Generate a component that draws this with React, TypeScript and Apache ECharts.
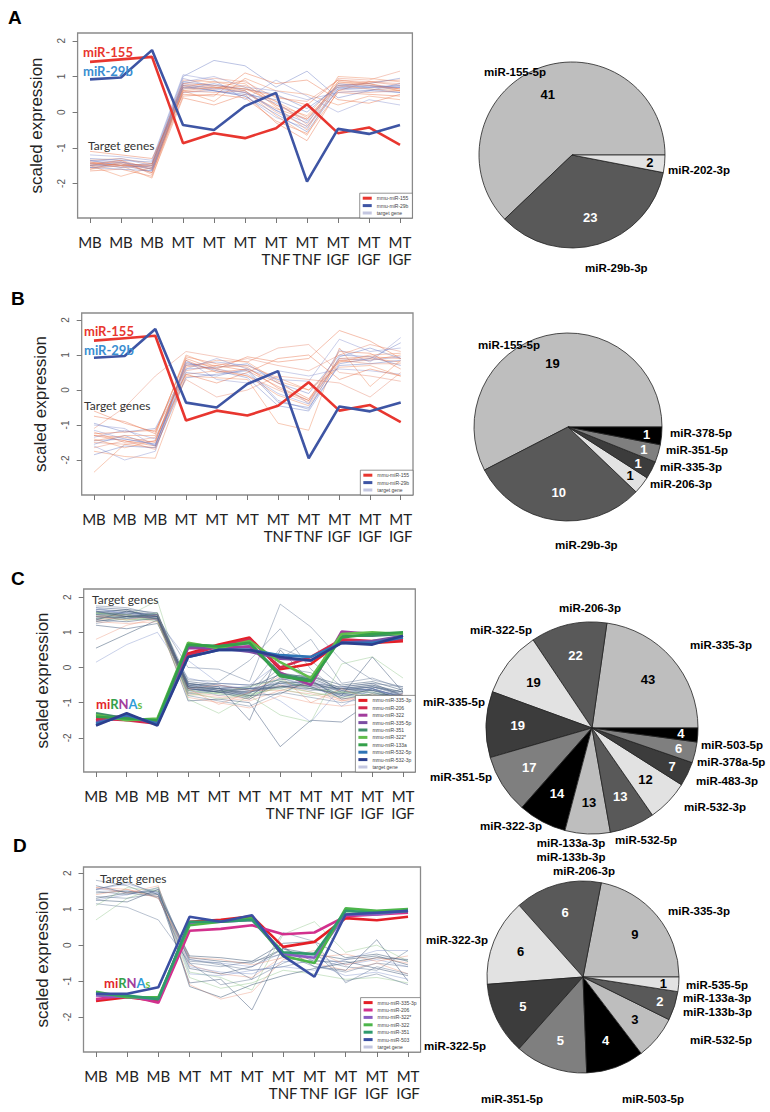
import React, { useEffect, useRef } from 'react';
import * as echarts from 'echarts';

// ---------- data ----------
const xLabels = ['MB', 'MB', 'MB', 'MT', 'MT', 'MT', 'MT\nTNF', 'MT\nTNF', 'MT\nIGF', 'MT\nIGF', 'MT\nIGF'];
const xTicks = [1, 2, 3, 4, 5, 6, 7, 8, 9, 10, 11];
const yTicks = [-2, -1, 0, 1, 2];

// panels A and B: miRNAs
const miR155 = [1.41, 1.48, 1.55, -0.87, -0.59, -0.73, -0.45, 0.22, -0.59, -0.43, -0.92];
const miR29b = [0.92, 0.97, 1.74, -0.36, -0.5, 0.17, 0.54, -1.95, -0.47, -0.61, -0.36];

const genesA = [
  [-1.45, -1.4, -1.55, 0.75, 0.7, 0.55, 0.1, -0.2, 0.8, 0.75, 0.65],
  [-1.5, -1.45, -1.6, 0.65, 0.8, 0.6, 0.05, -0.3, 0.75, 0.7, 0.7],
  [-1.35, -1.3, -1.45, 0.9, 0.85, 0.7, 0.2, -0.1, 0.85, 0.8, 0.6],
  [-1.55, -1.5, -1.65, 0.55, 0.6, 0.45, -0.15, -0.45, 0.65, 0.6, 0.55],
  [-1.4, -1.55, -1.5, 0.8, 0.95, 0.85, 0.4, 0.3, 0.9, 0.85, 0.75],
  [-1.6, -1.4, -1.7, 0.45, 0.5, 0.4, -0.25, -0.6, 0.55, 0.5, 0.45],
  [-1.3, -1.35, -1.4, 1.0, 1.45, 1.3, 0.7, 1.15, 0.4, 0.6, 0.8],
  [-1.5, -1.8, -1.55, 0.6, 0.3, 0.95, 0.6, 0.5, 0.2, 0.45, 0.35],
  [-1.2, -1.25, -1.35, 1.05, 0.9, 0.35, 0.9, 0.45, 0.0, 0.35, 0.2],
  [-1.45, -1.35, -1.75, 0.7, 0.65, 0.75, 0.3, -0.35, 0.95, 0.9, 1.15],
  [-1.65, -1.6, -1.8, 0.4, 0.2, 0.5, -0.3, -0.8, 0.6, 0.85, 0.9],
  [-1.35, -1.5, -1.45, 0.85, 0.75, 0.65, 0.5, 0.1, 0.7, 0.65, 0.55],
  [-1.5, -1.45, -1.6, 0.7, 0.85, 0.8, 0.15, -0.5, 1.0, 0.95, 0.85],
  [-1.4, -1.3, -1.5, 0.95, 0.7, 0.55, 0.25, -0.25, 0.8, 0.7, 0.7],
  [-1.55, -1.45, -1.7, 0.6, 0.55, 0.6, 0.0, -0.4, 0.6, 0.55, 0.6],
  [-1.1, -1.2, -1.3, 0.5, 0.45, 1.1, 0.8, 0.9, 0.35, 0.25, 0.5],
  [-1.45, -1.55, -1.5, 0.75, 0.6, 0.5, 0.35, 0.0, 0.75, 0.8, 0.95],
  [-1.6, -1.5, -1.85, 0.65, 0.7, 0.6, -0.1, -0.65, 0.85, 0.75, 0.6],
  [-1.35, -1.4, -1.55, 0.85, 1.0, 0.7, 0.6, 0.35, 0.55, 0.6, 0.7],
  [-1.5, -1.35, -1.6, 0.55, 0.65, 0.9, 0.2, -0.2, 0.7, 0.85, 0.8],
  [-1.4, -1.5, -1.45, 0.8, 0.75, 0.65, 0.45, 0.2, 0.9, 0.8, 0.65],
  [-1.55, -1.6, -1.65, 0.7, 0.6, 0.45, -0.05, -0.55, 0.65, 0.7, 0.75],
  [-1.45, -1.5, -1.5, 0.6, 0.7, 0.65, 0.3, -0.15, 0.75, 0.65, 0.6],
  [-1.5, -1.4, -1.6, 0.8, 0.65, 0.55, 0.05, -0.4, 0.7, 0.75, 0.7],
];

const genesB = [
  [-1.3, -1.45, -1.6, 0.75, 0.7, 0.55, 0.1, -0.3, 0.85, 0.9, 0.8],
  [-0.95, -1.2, -1.1, 0.6, 0.65, 0.75, 0.2, -0.1, 1.0, 0.95, 0.7],
  [-2.35, -1.55, -1.65, 0.45, 0.55, 0.4, -0.15, -0.45, 0.8, 0.85, 1.0],
  [-1.6, -2.0, -1.75, 0.85, 0.3, 0.2, 0.55, 0.4, 0.6, 0.55, 0.45],
  [-1.1, -0.5, 0.4, 1.1, 0.95, 0.8, 1.2, 1.3, 0.5, 0.4, 0.25],
  [-0.6, -0.95, -1.2, 0.9, 0.6, 0.95, 0.8, 0.9, 1.7, 1.4, 0.9],
  [-1.45, -1.4, -1.55, 0.5, 0.4, 0.6, -0.3, -0.55, 0.95, 1.2, 0.9],
  [-1.75, -1.9, -1.95, 0.4, 0.35, 0.3, -0.95, -1.15, 1.2, 0.1, 0.85],
  [-1.35, -1.15, -1.4, 0.7, 0.8, 0.7, 0.3, -0.4, 0.9, 0.85, 0.95],
  [-1.2, -1.5, -1.35, 0.3, -0.2, 0.0, 0.4, 0.3, 0.2, -0.2, 0.5],
  [-0.75, -0.9, -1.25, 0.95, 0.75, 0.65, 0.05, -0.3, 1.1, 1.05, 0.6],
  [-1.55, -1.3, -1.6, 0.8, 0.55, 0.35, -0.45, -0.6, 0.75, 0.9, 1.35],
  [-1.4, -1.65, -1.45, 0.65, 0.85, 0.8, 0.25, 0.0, 0.65, 0.7, 0.4],
  [-1.0, -1.1, -1.6, 0.75, 0.6, 0.45, -0.1, -0.4, 1.15, 0.8, 1.5],
  [-1.65, -1.45, -1.7, 0.55, 0.7, 0.9, 0.7, 0.55, 1.0, 1.3, 1.1],
  [-1.3, -1.35, -1.5, 0.85, 0.5, 0.6, 0.2, -0.25, 0.9, 0.95, 0.9],
  [-1.85, -1.6, -1.65, 0.35, 0.45, 0.55, -0.35, -0.5, 0.7, 0.75, 0.85],
  [-1.45, -1.3, -1.3, 1.0, 0.65, 0.7, 0.35, 0.0, 0.8, 1.0, 1.05],
  [-1.15, -1.4, -1.55, 0.6, 0.9, 0.6, 0.3, 0.25, 1.45, 1.1, 1.2],
  [-1.5, -1.55, -1.45, 0.7, 0.6, 0.4, 0.0, -0.35, 0.85, 0.75, 0.75],
  [-1.25, -1.2, -1.15, 0.45, 0.2, 0.5, 0.9, 1.0, 0.3, 0.6, 0.4],
];

// panel C miRNAs
const cMir335_3p = [-1.5, -1.45, -1.55, 0.4, 0.65, 0.85, -0.05, 0.1, 0.75, 0.7, 0.75];
const cMir206 = [-1.45, -1.5, -1.6, 0.35, 0.6, 0.8, 0.0, 0.3, 0.8, 0.75, 0.8];
const cMir322 = [-1.4, -1.4, -1.55, 0.55, 0.55, 0.6, -0.15, -0.5, 1.02, 0.95, 0.95];
const cMir335_5p = [-1.55, -1.4, -1.6, 0.6, 0.55, 0.45, 0.25, 0.2, 0.7, 0.75, 0.9];
const cMir351 = [-1.3, -1.45, -1.5, 0.65, 0.6, 0.7, -0.2, -0.35, 0.9, 0.9, 0.95];
const cMir322s = [-1.35, -1.5, -1.45, 0.7, 0.55, 0.75, 0.15, -0.3, 0.95, 1.0, 0.95];
const cMir133a = [-1.4, -1.45, -1.5, 0.65, 0.6, 0.7, -0.25, -0.4, 0.85, 0.95, 1.0];
const cMir532_5p = [-1.6, -1.35, -1.6, 0.3, 0.5, 0.5, 0.35, 0.3, 0.7, 0.7, 0.85];
const cMir532_3p = [-1.65, -1.3, -1.65, 0.3, 0.5, 0.5, 0.3, 0.2, 0.7, 0.65, 0.9];

const genesC = [
  [1.55, 1.5, 1.45, -0.55, -0.65, -0.7, -0.45, -0.4, -0.7, -0.6, -0.85],
  [1.45, 1.4, 1.35, -0.6, -0.7, -0.8, -0.3, -0.55, -0.8, -0.7, -0.95],
  [1.6, 1.55, 1.45, -0.5, -0.55, -0.6, -0.6, -0.35, -0.65, -0.55, -0.75],
  [1.35, 1.45, 1.4, -0.7, -0.8, -0.9, -0.5, -0.7, -0.9, -0.8, -1.0],
  [1.65, 1.6, 1.5, -0.45, -0.6, -0.55, -0.2, -0.25, -0.6, -0.5, -0.7],
  [1.5, 1.35, 1.4, -0.65, -0.75, -0.85, -0.4, -0.6, -0.75, -0.65, -0.9],
  [1.25, 1.4, 1.55, -0.8, -0.95, -1.1, -0.7, -0.85, -1.0, -0.85, -0.95],
  [1.7, 1.65, 1.35, -0.4, -0.5, -0.65, -0.55, -0.45, -0.55, -0.45, -0.8],
  [1.4, 1.5, 1.45, -0.55, -0.6, -0.75, 0.0, -0.15, -0.7, -0.6, -0.85],
  [0.15, 0.65, 1.0, -0.3, -0.5, -0.6, -0.45, -0.6, -0.8, -0.7, -0.9],
  [0.8, 1.2, 1.4, -0.75, -0.85, -0.95, -0.65, -0.75, -0.95, -0.75, -1.05],
  [0.55, 0.95, 1.35, -0.6, -0.7, -0.7, -0.55, -0.5, -0.6, -0.65, -0.8],
  [1.55, 1.45, 1.9, -0.9, -1.3, -0.8, -1.35, -1.55, 0.1, 0.3, -0.3],
  [1.5, 1.6, 1.45, 0.0, -0.05, -0.4, 1.8, 1.15, 0.2, -0.35, -0.55],
  [1.35, 1.3, 1.4, -0.95, -0.9, -1.0, -2.25, -1.5, -1.55, -0.95, -1.25],
  [1.45, 1.55, 1.5, -0.35, -0.4, 0.2, 1.1, -0.05, -0.75, -0.9, -0.6],
  [1.6, 1.4, 1.45, -0.7, -0.6, -0.55, -0.95, -1.55, -0.55, -0.65, -0.8],
  [1.3, 1.25, 1.3, -0.85, -1.0, -1.15, -0.8, -1.0, -1.1, -1.0, -1.1],
  [1.55, 1.65, 1.55, -0.5, -0.45, -0.5, -0.35, -0.25, -0.5, -0.4, -0.65],
  [1.4, 1.35, 1.4, -0.65, -0.75, -0.8, -0.55, -0.7, -0.85, -0.75, -0.95],
  [1.75, 1.7, 1.5, -0.6, -0.7, -0.75, 0.25, 0.8, -0.45, -0.3, -0.6],
  [1.2, 1.1, 1.25, -0.45, -0.55, -1.5, 0.5, -0.4, -0.8, 0.3, -0.7],
  [1.5, 1.45, 1.4, -0.75, -0.65, -0.6, -0.45, -0.55, -0.6, -0.55, -0.75],
  [1.65, 1.55, 1.5, -0.55, -0.8, -0.7, -0.3, -0.5, -0.75, -0.6, -0.85],
  [1.45, 1.5, 1.35, -0.6, -0.5, -0.65, -0.65, -0.45, -0.95, -0.85, -1.0],
  [1.35, 1.6, 1.45, -0.5, -0.65, -0.85, -0.15, -0.3, -0.65, -0.55, -0.7],
  [1.55, 1.4, 1.55, -0.7, -0.9, -0.75, -0.6, -0.8, -0.7, -0.7, -0.9],
  [1.6, 1.5, 1.4, -0.45, -0.55, -0.6, 0.55, 0.2, -0.55, -0.45, -0.55],
  [1.4, 1.45, 1.5, -0.55, -0.7, -0.9, -0.4, -0.55, -0.85, -0.6, -0.95],
  [1.5, 1.55, 1.45, -0.65, -0.6, -0.7, -0.5, -0.65, -0.6, -0.5, -0.8],
  [1.7, 1.5, 1.35, 0.2, -0.45, -0.5, 0.15, -0.4, -1.1, -0.6, -0.9],
  [1.45, 1.35, 1.5, -0.6, -1.05, -0.7, -0.25, -1.0, -0.6, -0.95, -0.75],
  [1.3, 1.45, 1.45, -0.55, -0.6, -0.8, -0.75, -0.35, -0.9, -0.75, -0.8],
  [1.55, 1.5, 1.3, -0.8, -0.7, -0.55, -0.35, -0.6, -0.7, -0.8, -1.0],
  [1.45, 1.4, 1.5, -0.5, -0.6, -0.65, -0.4, -0.45, -0.65, -0.55, -0.8],
  [1.6, 1.45, 1.4, -0.6, -0.7, -0.6, -0.55, -0.6, -0.75, -0.65, -0.9],
];

// panel D miRNAs
const dMir335_3p = [-1.55, -1.45, -1.55, 0.65, 0.7, 0.8, -0.05, 0.09, 0.75, 0.69, 0.79];
const dMir206 = [-1.5, -1.4, -1.6, 0.4, 0.45, 0.55, 0.3, 0.35, 0.8, 0.85, 0.9];
const dMir322s = [-1.4, -1.45, -1.5, 0.6, 0.65, 0.7, -0.25, -0.35, 0.85, 0.85, 0.95];
const dMir322 = [-1.3, -1.45, -1.45, 0.55, 0.65, 0.75, -0.3, -0.5, 1.02, 0.95, 1.0];
const dMir351 = [-1.35, -1.4, -1.5, 0.65, 0.65, 0.7, -0.2, -0.25, 0.95, 0.9, 0.95];
const dMir503 = [-1.35, -1.35, -1.17, 0.79, 0.65, 0.83, -0.3, -0.88, 0.85, 0.9, 0.95];

const genesD = [
  [1.55, 1.5, 1.45, -0.4, -0.5, -0.6, -0.2, -0.3, -0.55, -0.4, -0.6],
  [1.6, 1.55, 1.35, -0.55, -0.8, -0.9, -0.3, -0.5, -0.7, -0.5, -0.8],
  [1.3, 1.45, 1.5, -0.35, -0.45, -0.5, -0.1, -0.25, -0.4, -0.3, -0.55],
  [0.7, 1.3, 1.6, -0.75, -0.9, -1.25, 0.3, 0.65, -0.2, 0.0, -0.45],
  [1.15, 1.05, 0.7, -0.5, -1.1, -0.95, 0.35, 0.1, -1.05, -0.6, -0.8],
  [1.55, 1.75, 1.4, -1.05, -0.95, -1.8, -0.05, -0.6, -0.7, 0.15, -1.0],
  [1.8, 1.65, 1.3, -0.4, -0.55, -0.7, -0.6, -0.4, -0.6, -0.7, -0.15],
  [1.25, 1.4, 1.55, -0.6, -0.75, -0.8, -0.45, -0.5, -0.85, -0.75, -0.95],
  [1.6, 1.45, 1.65, -1.1, -1.5, -1.3, -0.4, -0.35, -0.25, -0.45, -0.3],
  [1.45, 1.5, 1.4, -0.3, -0.35, -0.45, 0.05, 0.1, -0.35, -0.25, -0.45],
  [1.1, 1.6, 1.5, -0.9, -1.2, -1.05, -0.7, -0.8, -0.95, -0.9, -1.05],
  [1.5, 1.4, 1.6, -0.5, -0.6, -0.45, -0.25, -0.6, -0.75, -0.5, -0.6],
  [1.65, 1.45, 1.35, -0.65, -0.8, -0.6, -0.1, -0.45, -0.45, -0.65, -0.85],
  [1.35, 1.3, 1.45, -0.45, -0.5, -0.95, -0.5, -0.2, -1.0, -0.8, -1.1],
  [1.55, 1.7, 1.45, -0.8, -0.85, -0.7, -0.6, -0.7, -0.4, -0.15, -0.15],
  [1.4, 1.55, 1.3, -0.35, -0.4, -0.55, -0.35, -0.15, -0.55, -0.35, -0.5],
  [1.25, 1.2, 1.55, -1.15, -1.45, -1.1, -0.85, -0.65, -0.5, -0.35, -0.4],
];

// pies
const pieALabels = ['miR-155-5p', 'miR-29b-3p', 'miR-202-3p'];
const pieAValues = [41, 23, 2];
const pieBLabels = ['miR-155-5p', 'miR-29b-3p', 'miR-206-3p', 'miR-335-3p', 'miR-351-5p', 'miR-378-5p'];
const pieBValues = [19, 10, 1, 1, 1, 1];
const pieCLabels = ['miR-335-3p', 'miR-206-3p', 'miR-322-5p', 'miR-335-5p', 'miR-351-5p', 'miR-322-3p',
  'miR-133a-3p\nmiR-133b-3p', 'miR-532-5p', 'miR-532-3p', 'miR-483-3p', 'miR-378a-5p', 'miR-503-5p'];
const pieCValues = [43, 22, 19, 19, 17, 14, 13, 13, 12, 7, 6, 4];
const pieDLabels = ['miR-335-3p', 'miR-206-3p', 'miR-322-3p', 'miR-322-5p', 'miR-351-5p', 'miR-503-5p',
  'miR-532-5p', 'miR-133a-3p\nmiR-133b-3p', 'miR-535-5p'];
const pieDValues = [9, 6, 6, 5, 5, 4, 3, 2, 1];

// ---------- layout / styling ----------
// name-label anchor positions [x, y, align] as placed in the figure
const pieAName = [[546, 72, 'right'], [585, 268, 'left'], [668, 170, 'left']];
const pieBName = [[540, 345, 'right'], [555, 545, 'left'], [650, 484, 'left'], [660, 467, 'left'], [666, 450, 'left'], [670, 433, 'left']];
const pieCName = [[690, 645, 'left'], [590, 608, 'center'], [532, 630, 'right'], [485, 702, 'right'], [492, 777, 'right'],
  [542, 826, 'right'], [571, 850, 'center'], [615, 840, 'left'], [684, 807, 'left'], [696, 781, 'left'], [697, 762, 'left'], [701, 745, 'left']];
const pieDName = [[668, 911, 'left'], [584, 871, 'center'], [488, 940, 'right'], [486, 1046, 'right'], [543, 1099, 'right'],
  [622, 1099, 'left'], [690, 1040, 'left'], [683, 1005, 'left'], [686, 985, 'left']];

const grayCycle = ['#bebebe', '#595959', '#e2e2e2', '#3c3c3c', '#7f7f7f', '#000000'];
const textOnGray = ['#000', '#fff', '#000', '#fff', '#fff', '#fff'];
const warmCool = ['rgba(232,105,62,0.42)', 'rgba(80,100,185,0.38)', 'rgba(242,150,110,0.5)', 'rgba(130,140,205,0.42)', 'rgba(225,110,80,0.36)'];
const slate = ['rgba(70,92,125,0.5)', 'rgba(90,112,145,0.45)', 'rgba(120,140,200,0.4)', 'rgba(235,140,110,0.38)', 'rgba(60,85,115,0.5)', 'rgba(130,190,120,0.38)', 'rgba(100,120,150,0.45)'];

const SANS = '"Liberation Sans", Arial, sans-serif';
const CAL = 'Lato, "Open Sans", sans-serif';

const panels = [
  { left: 77.6, top: 33, width: 334.8, height: 185, ymin: -2.97, ymax: 2.22 },
  { left: 81.7, top: 313, width: 331.3, height: 182, ymin: -3.0, ymax: 2.2 },
  { left: 83.7, top: 589, width: 331.6, height: 183, ymin: -2.97, ymax: 2.23 },
  { left: 83.5, top: 867, width: 337, height: 185, ymin: -2.97, ymax: 2.17 },
];

const pies = [
  { center: [572, 155], r: 93, labels: pieALabels, values: pieAValues, names: pieAName },
  { center: [568, 427], r: 94, labels: pieBLabels, values: pieBValues, names: pieBName },
  { center: [592, 728], r: 106, labels: pieCLabels, values: pieCValues, names: pieCName },
  { center: [583, 977], r: 96, labels: pieDLabels, values: pieDValues, names: pieDName },
];

function toXY(vals: number[]) {
  return vals.map((v, i) => [xTicks[i], v]);
}

function lineS(idx: number, name: string, vals: number[], color: string, width: number, z: number) {
  return {
    type: 'line', name, xAxisIndex: idx, yAxisIndex: idx, data: toXY(vals),
    symbol: 'none', silent: true, z, lineStyle: { color, width }, itemStyle: { color },
    emphasis: { disabled: true },
  };
}

// label anchor inside each slice, computed from the slice's mid angle
function innerPos(p: any, i: number) {
  const total = p.values.reduce((a: number, b: number) => a + b, 0);
  let cum = 0;
  for (let k = 0; k < i; k++) cum += p.values[k];
  const frac = p.values[i] / total;
  const mid = ((cum + p.values[i] / 2) / total) * Math.PI * 2;
  const f = frac < 0.06 ? 0.84 : 0.7;
  return [p.center[0] + Math.cos(mid) * p.r * f, p.center[1] - Math.sin(mid) * p.r * f];
}

function buildOption() {
  const grid = panels.map((p) => ({
    left: p.left, top: p.top, width: p.width, height: p.height,
    show: true, borderColor: '#8a8a8a', borderWidth: 1.3, backgroundColor: '#fff', containLabel: false,
  }));
  const xAxis = panels.map((p, i) => ({
    type: 'value', gridIndex: i, min: 0.6, max: 11.4, position: 'bottom',
    axisLine: { show: false, onZero: false }, splitLine: { show: false },
    axisTick: { show: true, customValues: xTicks, length: 5, lineStyle: { color: '#777', width: 1 } },
    axisLabel: {
      show: true, customValues: xTicks, formatter: (v: number) => xLabels[Math.round(v) - 1] || '',
      fontSize: 15, fontFamily: CAL, color: '#222', lineHeight: 17, margin: 15,
    },
  }));
  const yAxis = panels.map((p, i) => ({
    type: 'value', gridIndex: i, min: p.ymin, max: p.ymax, position: 'left',
    axisLine: { show: false, onZero: false }, splitLine: { show: false },
    axisTick: { show: true, customValues: yTicks, length: 5, lineStyle: { color: '#777', width: 1 } },
    axisLabel: { show: true, customValues: yTicks, rotate: 90, fontSize: 10, fontFamily: SANS, color: '#555', margin: 11 },
    name: 'scaled expression', nameLocation: 'middle', nameGap: 33,
    nameTextStyle: { fontSize: 17, fontFamily: SANS, color: '#222' },
  }));

  const series: any[] = [];
  genesA.forEach((g, k) => series.push(lineS(0, 'target gene', g, warmCool[k % warmCool.length], 1, 2)));
  series.push(lineS(0, 'mmu-miR-155', miR155, '#e8362f', 2.6, 5));
  series.push(lineS(0, 'mmu-miR-29b', miR29b, '#3e55a4', 2.6, 5));

  genesB.forEach((g, k) => series.push(lineS(1, 'target gene', g, warmCool[k % warmCool.length], 1, 2)));
  series.push(lineS(1, 'mmu-miR-155', miR155, '#e8362f', 2.6, 5));
  series.push(lineS(1, 'mmu-miR-29b', miR29b, '#3e55a4', 2.6, 5));

  genesC.forEach((g, k) => series.push(lineS(2, 'target gene', g, slate[k % slate.length], 1, 2)));
  const cMirs: [string, number[], string][] = [
    ['mmu-miR-335-3p', cMir335_3p, '#e41f26'],
    ['mmu-miR-206', cMir206, '#d42a4e'],
    ['mmu-miR-322', cMir322, '#a23c9c'],
    ['mmu-miR-335-5p', cMir335_5p, '#7b4ea3'],
    ['mmu-miR-351', cMir351, '#3f8f6a'],
    ['mmu-miR-322*', cMir322s, '#62bd4d'],
    ['mmu-miR-133a', cMir133a, '#34a04a'],
    ['mmu-miR-532-5p', cMir532_5p, '#2f74b5'],
    ['mmu-miR-532-3p', cMir532_3p, '#2c3f8e'],
  ];
  cMirs.forEach(([n, v, c]) => series.push(lineS(2, n, v, c, 2.6, 5)));

  genesD.forEach((g, k) => series.push(lineS(3, 'target gene', g, slate[(k + 2) % slate.length], 1, 2)));
  const dMirs: [string, number[], string][] = [
    ['mmu-miR-335-3p', dMir335_3p, '#e41f26'],
    ['mmu-miR-206', dMir206, '#d2308d'],
    ['mmu-miR-322*', dMir322s, '#8a5cc2'],
    ['mmu-miR-322', dMir322, '#4cb54a'],
    ['mmu-miR-351', dMir351, '#2e9a6d'],
    ['mmu-miR-503', dMir503, '#3a4fa3'],
  ];
  dMirs.forEach(([n, v, c]) => series.push(lineS(3, n, v, c, 2.6, 5)));

  // pies
  pies.forEach((p) => {
    const data = p.values.map((v, i) => ({
      name: p.labels[i], value: v,
      itemStyle: { color: grayCycle[i % 6] },
    }));
    series.push({
      type: 'pie', center: p.center, radius: p.r, startAngle: 0, clockwise: false,
      avoidLabelOverlap: false, silent: true, animation: false,
      itemStyle: { borderColor: '#222', borderWidth: 0.8 },
      label: { show: true, position: 'outside', formatter: '{b}', fontSize: 11.5, fontWeight: 'bold', fontFamily: SANS, color: '#000', lineHeight: 14 },
      labelLine: { show: false, length: 5, length2: 0 },
      labelLayout: (prm: any) => {
        const a = p.names[prm.dataIndex];
        return { x: a[0], y: a[1], align: a[2], verticalAlign: 'middle' };
      },
      emphasis: { disabled: true },
      data,
    });
    const inner = p.values.map((v, i) => ({
      name: p.labels[i] + ' ', value: v,
      itemStyle: { color: 'rgba(0,0,0,0)' },
      label: { color: textOnGray[i % 6] },
    }));
    series.push({
      type: 'pie', center: p.center, radius: [p.r * 0.4, p.r], startAngle: 0, clockwise: false,
      avoidLabelOverlap: false, silent: true, animation: false, z: 4,
      itemStyle: { borderWidth: 0 },
      label: { show: true, position: 'inner', formatter: '{c}', fontSize: 13, fontWeight: 'bold', fontFamily: SANS },
      labelLine: { show: false },
      labelLayout: (prm: any) => {
        const q = innerPos(p, prm.dataIndex);
        return { x: q[0], y: q[1], align: 'center', verticalAlign: 'middle' };
      },
      emphasis: { disabled: true },
      data: inner,
    });
  });

  const legendBase = {
    orient: 'vertical', itemWidth: 9, itemHeight: 3, itemGap: 2.4,
    textStyle: { fontSize: 5, lineHeight: 5, fontFamily: SANS, color: '#444' },
    padding: [2.5, 4, 2.5, 3], borderColor: '#666', borderWidth: 0.7, backgroundColor: '#fff',
    selectedMode: false, icon: 'rect', z: 10,
  };
  const tg = { name: 'target gene', itemStyle: { color: '#c3c6e0' }, icon: 'rect' };
  const legend = [
    { ...legendBase, right: 770 - 412.4, bottom: 1112 - 218,
      data: [{ name: 'mmu-miR-155', itemStyle: { color: '#e8362f' } }, { name: 'mmu-miR-29b', itemStyle: { color: '#3e55a4' } }, tg] },
    { ...legendBase, right: 770 - 413, bottom: 1112 - 495,
      data: [{ name: 'mmu-miR-155', itemStyle: { color: '#e8362f' } }, { name: 'mmu-miR-29b', itemStyle: { color: '#3e55a4' } }, tg] },
    { ...legendBase, right: 770 - 415.3, bottom: 1112 - 772,
      data: [...cMirs.map(([n, , c]) => ({ name: n, itemStyle: { color: c } })), tg] },
    { ...legendBase, right: 770 - 420.5, bottom: 1112 - 1052,
      data: [...dMirs.map(([n, , c]) => ({ name: n, itemStyle: { color: c } })), tg] },
  ];

  const letter = (t: string, x: number, y: number) => ({
    type: 'text', x, y, z: 20,
    style: { text: t, font: `bold 19px ${SANS}`, fill: '#000', verticalAlign: 'top' },
  });
  const ann = (t: string, x: number, y: number, fill: string, font: string) => ({
    type: 'text', x, y, z: 20, style: { text: t, font, fill, verticalAlign: 'middle' },
  });
  const mirnas = (x: number, y: number) => ({
    type: 'text', x, y, z: 20,
    style: {
      text: '{r|mi}{g|R}{p|N}{b|A}{l|s}', verticalAlign: 'middle', font: `bold 13px ${CAL}`,
      rich: {
        r: { fill: '#e3262b', font: `bold 13px ${CAL}` },
        g: { fill: '#34a04a', font: `bold 13px ${CAL}` },
        p: { fill: '#a23c9c', font: `bold 13px ${CAL}` },
        b: { fill: '#2f9cd8', font: `bold 13px ${CAL}` },
        l: { fill: '#6cc04a', font: `bold 11px ${CAL}` },
      },
    },
  });
  const redF = `bold 13px ${CAL}`;
  const tgF = `12px ${CAL}`;
  const graphic = [
    letter('A', 8, 8), letter('B', 11, 289), letter('C', 11, 569), letter('D', 13, 836),
    ann('miR-155', 83, 52, '#e8362f', redF), ann('miR-29b', 83, 71, '#3a8dd0', redF), ann('Target genes', 88, 145, '#333', tgF),
    ann('miR-155', 84, 331, '#e8362f', redF), ann('miR-29b', 84, 350, '#3a8dd0', redF), ann('Target genes', 84, 405, '#333', tgF),
    ann('Target genes', 92, 599, '#333', tgF), mirnas(96, 704),
    ann('Target genes', 100, 878, '#333', tgF), mirnas(104, 983),
  ];

  return { animation: false, backgroundColor: '#fff', grid, xAxis, yAxis, series, legend, graphic };
}

export default function App() {
  const ref = useRef<HTMLDivElement>(null);
  useEffect(() => {
    if (!ref.current) return;
    const chart = echarts.init(ref.current, null, { renderer: 'svg', width: 770, height: 1112 });
    chart.setOption(buildOption() as any);
    return () => chart.dispose();
  }, []);
  return <div ref={ref} style={{ position: 'absolute', left: 0, top: 0, width: 770, height: 1112, background: '#fff' }} />;
}
